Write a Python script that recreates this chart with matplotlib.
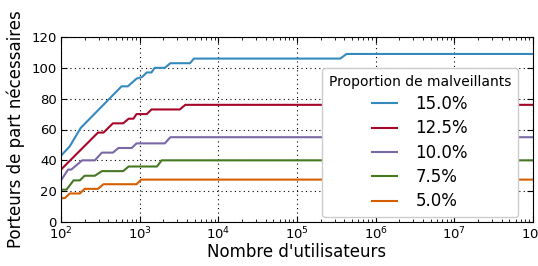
import numpy as np
import matplotlib
matplotlib.use("Agg")
import matplotlib.pyplot as plt

# Data: log10(number of users) breakpoints and required share holders
labels = ["15.0%", "12.5%", "10.0%", "7.5%", "5.0%"]
colors = ["#348ABD", "#A60628", "#7A68A6", "#467821", "#D55E00"]

blue_exp = [2.00, 2.11, 2.25, 2.77, 2.85, 2.96, 3.03, 3.09, 3.15, 3.19, 3.32, 3.39, 3.64, 3.69, 5.55, 5.63, 8.0]
blue_val = [43, 49, 61, 88, 88, 93, 94, 97, 97, 100, 100, 103, 103, 106, 106, 109, 109]

red_exp = [2.00, 2.47, 2.54, 2.66, 2.79, 2.86, 2.92, 2.96, 3.09, 3.15, 3.51, 3.58, 8.0]
red_val = [34, 58, 58, 64, 64, 67, 67, 70, 70, 73, 73, 76, 76]

purple_exp = [2.00, 2.09, 2.13, 2.27, 2.43, 2.52, 2.66, 2.73, 2.90, 2.96, 3.32, 3.39, 8.0]
purple_val = [27, 34, 34, 40, 40, 45, 45, 48, 48, 51, 51, 55, 55]

green_exp = [2.00, 2.07, 2.16, 2.24, 2.30, 2.43, 2.52, 2.79, 2.86, 3.22, 3.28, 8.0]
green_val = [21, 21, 27, 27, 30, 30, 33, 33, 36, 36, 40, 40]

orange_exp = [2.00, 2.05, 2.11, 2.24, 2.30, 2.47, 2.54, 2.96, 3.02, 8.0]
orange_val = [15.5, 15.5, 18.5, 18.5, 21.5, 21.5, 24.5, 24.5, 27.5, 27.5]

series = [(blue_exp, blue_val), (red_exp, red_val), (purple_exp, purple_val),
          (green_exp, green_val), (orange_exp, orange_val)]

fig = plt.figure(figsize=(5.38, 2.66), dpi=100)
fig.patch.set_facecolor("white")
ax = fig.add_axes([61/538, 1 - 222/266, 472/538, 185/266])

for (ex, val), lab, c in zip(series, labels, colors):
    ax.plot(10 ** np.array(ex), val, color=c, lw=1.5, label=lab)

ax.set_xscale("log")
ax.set_xlim(1e2, 1e8)
ax.set_ylim(0, 120)
ax.set_yticks(np.arange(0, 121, 20))
ax.grid(True, which="major", color="black", linestyle=(0, (1, 3)), linewidth=0.8)
ax.tick_params(which="both", direction="in", top=True, right=True, labelsize=9.5)
ax.tick_params(which="major", length=4, pad=3)
ax.tick_params(which="minor", length=2)
ax.set_xlabel("Nombre d'utilisateurs", fontsize=12, labelpad=0)
ax.set_ylabel("Porteurs de part nécessaires", fontsize=12, labelpad=5)

leg = ax.legend(title="Proportion de malveillants", loc="lower right",
                bbox_to_anchor=(0.968, 0.027), borderaxespad=0, fontsize=12,
                title_fontsize=10, handlelength=1.5, handletextpad=1.1,
                labelspacing=0.38, fancybox=True, framealpha=1,
                edgecolor="#cccccc")

fig.savefig("out.png", dpi=100, facecolor="white")
